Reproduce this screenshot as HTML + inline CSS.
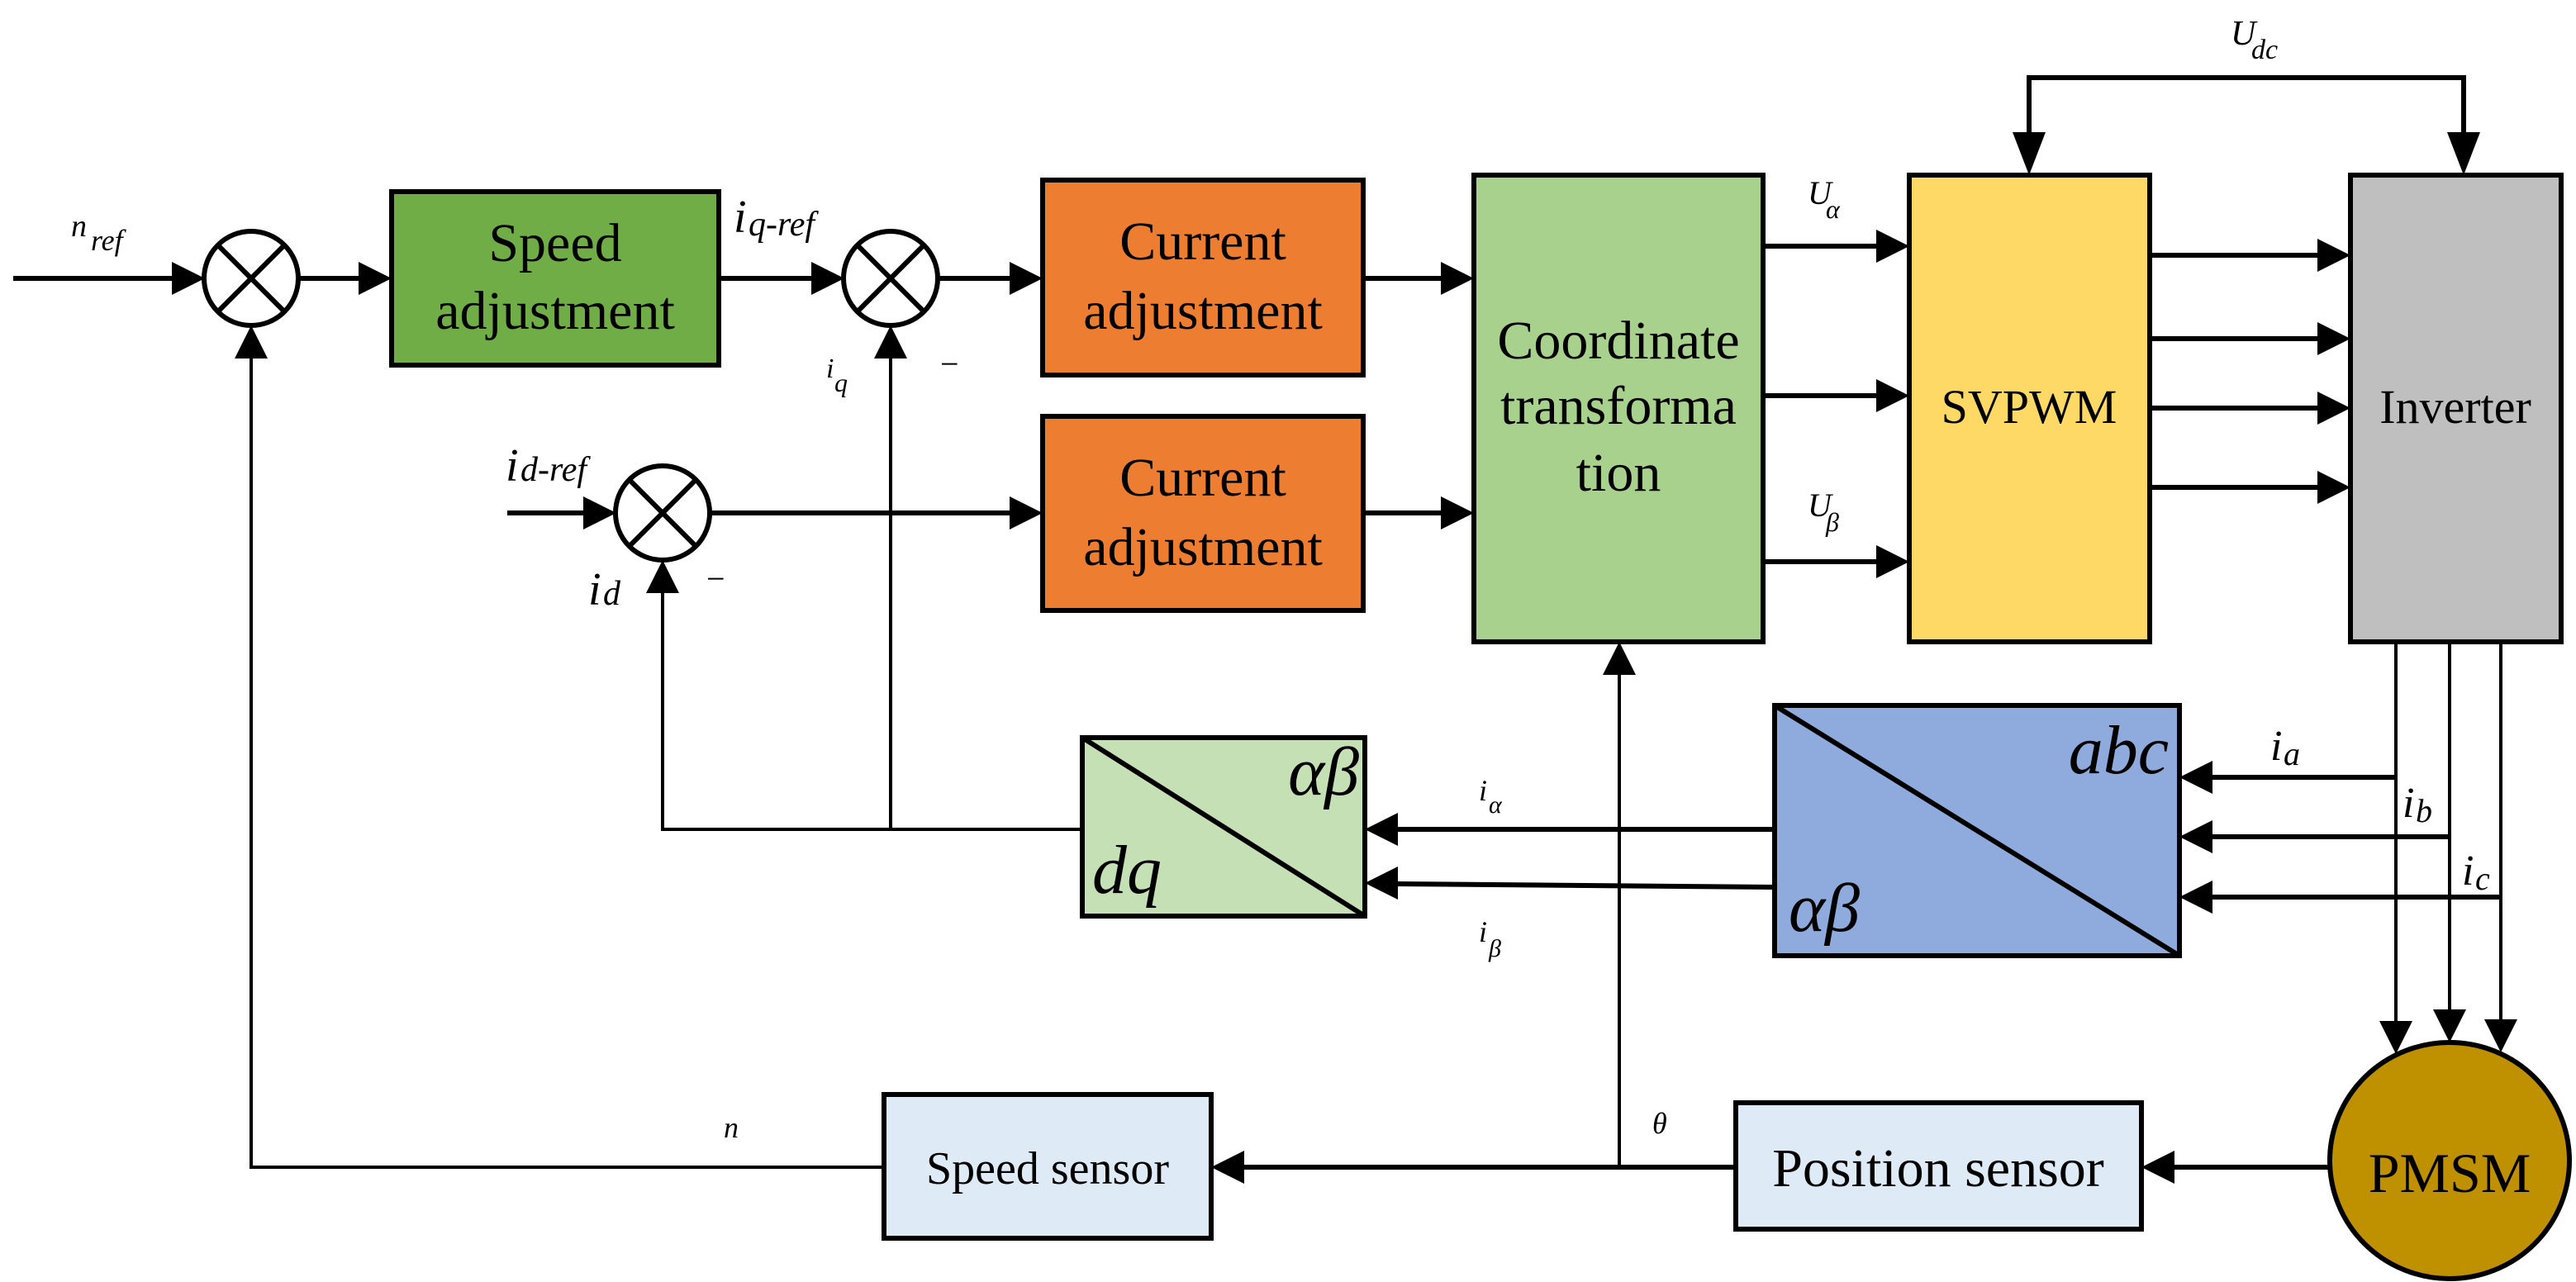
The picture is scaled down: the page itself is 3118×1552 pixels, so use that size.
<!DOCTYPE html>
<html><head><meta charset="utf-8"><style>
html,body{margin:0;padding:0;background:#fff;}
svg{display:block;}
svg text{font-family:"Liberation Serif","DejaVu Serif",serif;fill:#000;}
.it{font-style:italic;}
</style></head><body>
<svg width="3118" height="1552" viewBox="0 0 3118 1552" xmlns="http://www.w3.org/2000/svg" font-family="Liberation Serif, DejaVu Serif, serif">
<g stroke="#000" stroke-width="6" fill="none">
<rect x="474" y="232" width="396" height="210" fill="#70AD47"/>
<rect x="1262" y="218" width="388" height="236" fill="#ED7D31"/>
<rect x="1262" y="504" width="388" height="235" fill="#ED7D31"/>
<rect x="1784" y="212" width="350" height="565" fill="#A9D18E"/>
<rect x="2311" y="212" width="291" height="565" fill="#FFD966"/>
<rect x="2845" y="212" width="255" height="565" fill="#BFBFBF"/>
<rect x="1310" y="893" width="342" height="216" fill="#C5E0B4"/>
<line x1="1310" y1="893" x2="1652" y2="1109"/>
<rect x="2148" y="854" width="490" height="303" fill="#8FAADC"/>
<line x1="2148" y1="854" x2="2638" y2="1157"/>
<rect x="1070" y="1325" width="396" height="174" fill="#DEEBF7"/>
<rect x="2101" y="1335" width="491" height="153" fill="#DEEBF7"/>
<ellipse cx="2965" cy="1405" rx="145" ry="143" fill="#BF9000"/>
<circle cx="304" cy="337" r="57" fill="#fff"/>
<line x1="264" y1="297" x2="344" y2="377"/><line x1="344" y1="297" x2="264" y2="377"/>
<circle cx="1078" cy="337" r="57" fill="#fff"/>
<line x1="1038" y1="297" x2="1118" y2="377"/><line x1="1118" y1="297" x2="1038" y2="377"/>
<circle cx="802" cy="621" r="57" fill="#fff"/>
<line x1="762" y1="581" x2="842" y2="661"/><line x1="842" y1="581" x2="762" y2="661"/>
<g stroke-width="6">
<line x1="16" y1="337" x2="215" y2="337"/>
<line x1="361" y1="337" x2="440" y2="337"/>
<line x1="870" y1="337" x2="985" y2="337"/>
<line x1="1135" y1="337" x2="1225" y2="337"/>
<line x1="1650" y1="337" x2="1747" y2="337"/>
<line x1="1650" y1="621" x2="1747" y2="621"/>
<line x1="614" y1="621" x2="710" y2="621"/>
<line x1="859" y1="621" x2="1225" y2="621"/>
<line x1="2134" y1="298" x2="2274" y2="298"/>
<line x1="2134" y1="479" x2="2274" y2="479"/>
<line x1="2134" y1="680" x2="2274" y2="680"/>
<line x1="2602" y1="309" x2="2808" y2="309"/>
<line x1="2602" y1="410" x2="2808" y2="410"/>
<line x1="2602" y1="494" x2="2808" y2="494"/>
<line x1="2602" y1="590" x2="2808" y2="590"/>
<polyline points="2456,175 2456,94 2982,94 2982,175"/>
<line x1="2148" y1="1004" x2="1689" y2="1004"/>
<line x1="2148" y1="1074" x2="1689" y2="1070"/>
<line x1="2900" y1="941" x2="2675" y2="941"/>
<line x1="2965" y1="1013" x2="2675" y2="1013"/>
<line x1="3027" y1="1086" x2="2675" y2="1086"/>
<line x1="2101" y1="1413" x2="1503" y2="1413"/>
<line x1="2820" y1="1413" x2="2629" y2="1413"/>
</g>
<g stroke-width="4">
<polyline points="1070,1413 304,1413 304,431"/>
<polyline points="1310,1004 802,1004 802,715"/>
<line x1="1078" y1="1004" x2="1078" y2="431"/>
<line x1="1960" y1="1413" x2="1960" y2="814"/>
<line x1="2900" y1="777" x2="2900" y2="1240"/>
<line x1="2965" y1="777" x2="2965" y2="1226"/>
<line x1="3027" y1="777" x2="3027" y2="1238"/>
</g>
</g>
<g fill="#000">
<polygon points="248,337 208,317 208,357"/>
<polygon points="474,337 434,317 434,357"/>
<polygon points="1022,337 982,317 982,357"/>
<polygon points="1262,337 1222,317 1222,357"/>
<polygon points="1262,621 1222,601 1222,641"/>
<polygon points="1784,337 1744,317 1744,357"/>
<polygon points="1784,621 1744,601 1744,641"/>
<polygon points="746,621 706,601 706,641"/>
<polygon points="2311,298 2271,278 2271,318"/>
<polygon points="2311,479 2271,459 2271,499"/>
<polygon points="2311,680 2271,660 2271,700"/>
<polygon points="2845,309 2805,289 2805,329"/>
<polygon points="2845,410 2805,390 2805,430"/>
<polygon points="2845,494 2805,474 2805,514"/>
<polygon points="2845,590 2805,570 2805,610"/>
<polygon points="2456,212 2436,160 2476,160"/>
<polygon points="2982,212 2962,160 3002,160"/>
<polygon points="304,394 284,434 324,434"/>
<polygon points="1078,394 1058,434 1098,434"/>
<polygon points="802,678 782,718 822,718"/>
<polygon points="1960,777 1940,817 1980,817"/>
<polygon points="1652,1004 1692,984 1692,1024"/>
<polygon points="1652,1069 1692,1049 1692,1089"/>
<polygon points="2638,941 2678,921 2678,961"/>
<polygon points="2638,1013 2678,993 2678,1033"/>
<polygon points="2638,1086 2678,1066 2678,1106"/>
<polygon points="1466,1413 1506,1393 1506,1433"/>
<polygon points="2592,1413 2632,1393 2632,1433"/>
<polygon points="2900,1276 2880,1236 2920,1236"/>
<polygon points="2965,1262 2945,1222 2985,1222"/>
<polygon points="3027,1274 3007,1234 3047,1234"/>
</g>
<g text-anchor="middle" font-size="66" font-family="Liberation Serif, DejaVu Serif, serif">
<text x="672" y="316">Speed</text>
<text x="672" y="398">adjustment</text>
<text x="1456" y="314">Current</text>
<text x="1456" y="398">adjustment</text>
<text x="1456" y="600">Current</text>
<text x="1456" y="684">adjustment</text>
<text x="1959" y="434">Coordinate</text>
<text x="1959" y="513">transforma</text>
<text x="1959" y="594">tion</text>
<text x="2456" y="512" font-size="58">SVPWM</text>
<text x="2972" y="512" font-size="58">Inverter</text>
<text x="1268" y="1433" font-size="56">Speed sensor</text>
<text x="2346" y="1436" font-size="66">Position sensor</text>
<text x="2965" y="1443" font-size="68">PMSM</text>
</g>
<g font-style="italic" font-size="84" font-family="Liberation Serif, DejaVu Serif, serif">
<text x="1322" y="1081">dq</text>
<text x="1645" y="962" text-anchor="end">αβ</text>
<text x="2625" y="936" text-anchor="end">abc</text>
<text x="2165" y="1127">αβ</text>
</g>
<g font-style="italic" font-family="Liberation Serif, DejaVu Serif, serif">
<text x="2700" y="54" font-size="42">U</text><text x="2725" y="71" font-size="34">dc</text>
<text x="2188" y="247" font-size="40">U</text><text x="2210" y="264" font-size="32">α</text>
<text x="2188" y="625" font-size="40">U</text><text x="2210" y="643" font-size="32">β</text>
<text x="86" y="286" font-size="38">n</text><text x="110" y="303" font-size="36">ref</text>
<text x="888" y="281" font-size="56">i</text><text x="906" y="285" font-size="42">q-ref</text>
<text x="1000" y="457" font-size="34">i</text><text x="1010" y="474" font-size="32">q</text>
<text x="612" y="582" font-size="56">i</text><text x="630" y="582" font-size="42">d-ref</text>
<text x="712" y="732" font-size="56">i</text><text x="730" y="732" font-size="42">d</text>
<text x="876" y="1377" font-size="36">n</text>
<text x="2000" y="1372" font-size="36">θ</text>
<text x="1790" y="969" font-size="36">i</text><text x="1802" y="984" font-size="30">α</text>
<text x="1790" y="1140" font-size="36">i</text><text x="1802" y="1158" font-size="30">β</text>
<text x="2748" y="920" font-size="52">i</text><text x="2764" y="926" font-size="40">a</text>
<text x="2908" y="989" font-size="52">i</text><text x="2924" y="995" font-size="40">b</text>
<text x="2980" y="1071" font-size="52">i</text><text x="2996" y="1077" font-size="40">c</text>
</g>
<g font-family="Liberation Serif, DejaVu Serif, serif" font-size="40">
<text x="1138" y="454">−</text>
<text x="855" y="714">−</text>
</g>
</svg>
</body></html>
